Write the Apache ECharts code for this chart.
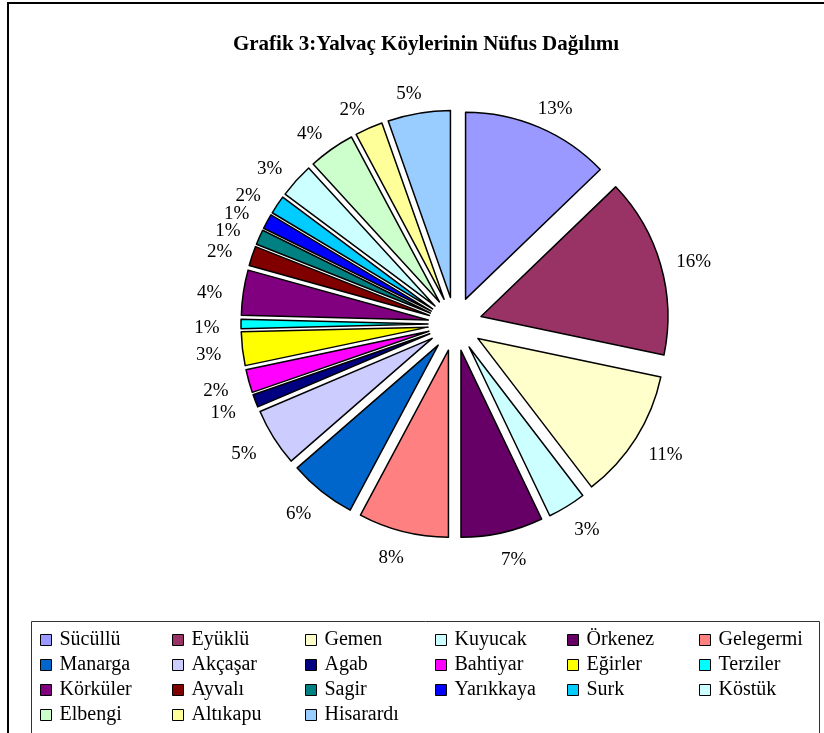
<!DOCTYPE html>
<html>
<head>
<meta charset="utf-8">
<script src="https://cdn.jsdelivr.net/npm/echarts@6/dist/echarts.min.js"></script>
<style>
  html, body { margin: 0; padding: 0; background: #fff; }
  #main { width: 824px; height: 733px; }
</style>
</head>
<body>
<div id="main"></div>
<script>
// koy adlari (saat yonunde, tepeden baslayarak)
var koyler = ['Sücüllü', 'Eyüklü', 'Gemen', 'Kuyucak', 'Örkenez', 'Gelegermi',
    'Manarga', 'Akçaşar', 'Agab', 'Bahtiyar', 'Eğirler', 'Terziler',
    'Körküler', 'Ayvalı', 'Sagir', 'Yarıkkaya', 'Surk', 'Köstük',
    'Elbengi', 'Altıkapu', 'Hisarardı'];
// nufus paylari (%), dilim acilarindan okunan
var paylar = [12.8, 15.5, 11.3, 3.3, 7.1, 7.8,
    5.8, 5.0, 1.1, 2.0, 2.9, 0.8,
    3.9, 1.7, 1.3, 1.3, 1.6, 3.0,
    4.0, 2.4, 5.4];
// excel renkleri
var renkler = ['#9999FF', '#993366', '#FFFFCC', '#CCFFFF', '#660066', '#FF8080',
    '#0066CC', '#CCCCFF', '#000080', '#FF00FF', '#FFFF00', '#00FFFF',
    '#800080', '#800000', '#008080', '#0000FF', '#00CCFF', '#CCFFFF',
    '#CCFFCC', '#FFFF99', '#99CCFF'];

var font = '"Liberation Serif", "Times New Roman", serif';
var merkez = [455, 324];

var ciz = function () {
    var myCharts = echarts.init(document.getElementById('main'));

    var data = [];
    koyler.forEach(function (ad, i) {
        data.push({
            name: ad,
            value: paylar[i],
            selected: true,   // hepsi disari acik (exploded)
            itemStyle: { color: renkler[i] }
        });
    });

    // legend: 6 sutun, her sutun ayri dikey legend
    var colX = [40, 172, 305, 435, 567, 699];
    var legends = [];
    colX.forEach(function (x, c) {
        var names = [];
        for (var k = c; k < koyler.length; k += 6) names.push(koyler[k]);
        legends.push({
            orient: 'vertical',
            left: x,
            top: 630,
            padding: 0,
            itemGap: 5,
            itemWidth: 11,
            itemHeight: 11,
            icon: 'rect',
            selectedMode: false,
            itemStyle: { borderColor: '#000', borderWidth: 1 },
            textStyle: {
                fontFamily: font, fontSize: 20, color: '#000',
                lineHeight: 20, padding: [0, 0, 0, 3]
            },
            data: names
        });
    });

    var option = {
        animation: false,
        title: {
            text: 'Grafik 3:Yalvaç Köylerinin Nüfus Dağılımı',
            left: 421,
            textAlign: 'center',
            top: 29,
            textStyle: { fontFamily: font, fontSize: 21, fontWeight: 'bold', color: '#000' }
        },
        legend: legends,
        graphic: [
            {
                type: 'rect',
                shape: { x: 8, y: 3, width: 830, height: 740 },
                style: { fill: 'none', stroke: '#000', lineWidth: 2 },
                silent: true
            },
            {
                type: 'rect',
                shape: { x: 31.5, y: 621.5, width: 788, height: 120 },
                style: { fill: 'none', stroke: '#333', lineWidth: 1 },
                silent: true
            }
        ],
        series: [{
            name: 'Nüfus',
            type: 'pie',
            center: merkez,
            radius: 187,
            startAngle: 90,
            clockwise: true,
            selectedMode: 'multiple',
            selectedOffset: 27,
            avoidLabelOverlap: false,
            percentPrecision: 0,
            itemStyle: { borderColor: '#000', borderWidth: 1.5 },
            label: {
                position: 'outside',
                formatter: '{d}%',
                fontFamily: font,
                fontSize: 19,
                color: '#000'
            },
            labelLine: { show: false, length: 29, length2: 0 },
            // etiketler ortali, ust/alt biraz iceri
            labelLayout: function (p) {
                var r = p.labelRect;
                var cy = r.y + r.height / 2;
                var ny = merkez[1] + (cy + 4 - merkez[1]) * 0.975;
                return { align: 'center', verticalAlign: 'middle', dy: ny - cy, hideOverlap: false };
            },
            emphasis: { scale: false, disabled: true },
            data: data
        }]
    };

    myCharts.setOption(option);
};

ciz();
</script>
</body>
</html>
